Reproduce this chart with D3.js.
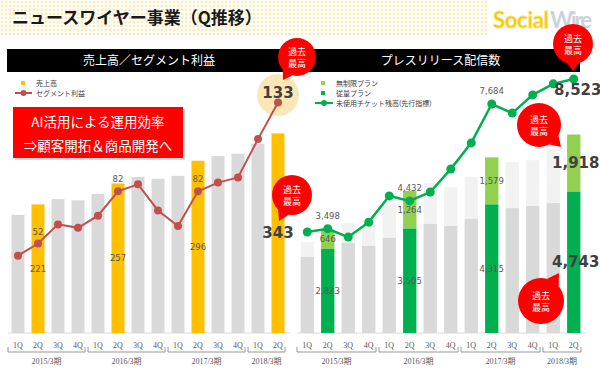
<!DOCTYPE html>
<html>
<head>
<meta charset="utf-8">
<script src="https://cdn.jsdelivr.net/npm/d3@7"></script>
<style>
  body { margin: 0; background: #fff; }
  svg { display: block; font-family: "Noto Sans CJK JP", "Noto Sans", sans-serif; }
</style>
</head>
<body>
<script>
// chart data
const quarters = ["1Q","2Q","3Q","4Q","1Q","2Q","3Q","4Q","1Q","2Q","3Q","4Q","1Q","2Q"];
const fiscalYears = ["2015/3期","2016/3期","2017/3期","2018/3期"];
const yearQuarterCount = [4, 4, 4, 2];
const highlightQ = [1, 5, 9, 13]; // 2Q columns shown in colour

const revenue = [203,221,230,228,239,257,268,265,270,296,304,308,325,343];
const segmentProfit = [45,52,63,61,68,82,86,71,62,82,87,90,112,133];

const meteredPlan = [2550,2823,3020,2920,3190,3505,3660,3590,3830,4315,4190,4260,4360,4743];
const unlimitedPlan = [500,646,670,740,1170,1264,1380,1310,1410,1579,1540,1540,1810,1918];
const unusedTickets = [3390,3498,3220,3720,4600,4432,4730,5500,6380,7684,7380,7990,8360,8523];

const W = 600, H = 371;
const baseY = 333;
const fmt = d3.format(",");

const svg = d3.select("body").append("svg")
  .attr("width", W)
  .attr("height", H);

// dotted header background
const defs = svg.append("defs");
const pat = defs.append("pattern")
  .attr("id", "dots")
  .attr("width", 4).attr("height", 4)
  .attr("patternUnits", "userSpaceOnUse");
pat.append("rect").attr("width", 4).attr("height", 4).attr("fill", "#fffdf3");
pat.append("circle").attr("cx", 2).attr("cy", 2).attr("r", 0.8).attr("fill", "#f7d66e");

svg.append("rect")
  .attr("x", 0).attr("y", 0)
  .attr("width", 488).attr("height", 36)
  .attr("fill", "url(#dots)");

svg.append("text") //page title
  .attr("x", 12).attr("y", 24)
  .attr("font-size", 17)
  .attr("font-weight", "bold")
  .attr("fill", "#1a1a1a")
  .text("ニュースワイヤー事業（Q推移）");

// logo
svg.append("text")
  .attr("x", 493).attr("y", 28)
  .attr("font-family", "Lato, 'Noto Sans', sans-serif")
  .attr("font-size", 22)
  .attr("font-weight", "bold")
  .attr("textLength", 56)
  .attr("fill", "#f6c800")
  .attr("stroke", "#fbe27a")
  .attr("stroke-width", 0.8)
  .text("Social");
svg.append("text")
  .attr("x", 550).attr("y", 28)
  .attr("font-family", "Lato, 'Noto Sans', sans-serif")
  .attr("font-size", 22)
  .attr("font-weight", "bold")
  .attr("textLength", 42)
  .attr("fill", "#c8d3dc")
  .text("Wire");

// black panel headers
const headers = [
  {x: 7, w: 284, label: "売上高／セグメント利益"},
  {x: 297, w: 283, label: "プレスリリース配信数"}
];
headers.forEach(function(h) {
  svg.append("rect")
    .attr("x", h.x).attr("y", 49)
    .attr("width", h.w).attr("height", 23)
    .attr("fill", "#000");
  svg.append("text")
    .attr("x", h.x + h.w / 2 + (h.x < 100 ? 0 : 2)).attr("y", 65)
    .attr("text-anchor", "middle")
    .attr("font-size", 12)
    .attr("fill", "#fff")
    .text(h.label);
});

// ---------- scales ----------
const xL = d3.scaleBand().domain(d3.range(quarters.length)).range([8, 288]).paddingInner(0.35).paddingOuter(0.175);
const xR = d3.scaleBand().domain(d3.range(quarters.length)).range([297, 584]).paddingInner(0.35).paddingOuter(0.175);
const yRev = d3.scaleLinear().domain([0, 400]).range([baseY, baseY - 400 * 0.582]);
const yProfit = d3.scaleLinear().domain([0, 140]).range([baseY + 1, baseY + 1 - 140 * 1.74]);
const yPR = d3.scaleLinear().domain([0, 9000]).range([baseY, baseY - 9000 * 0.0298]);

const isHi = function(i) { return highlightQ.indexOf(i) >= 0; };
const numFont = "'DejaVu Sans', Verdana, sans-serif";

// ---------- axes ----------
function drawAxis(x, left, right) {
  const g = svg.append("g")
    .attr("transform", "translate(0," + baseY + ")")
    .call(d3.axisBottom(x).tickSize(0).tickPadding(9).tickFormat(function(i) { return quarters[i]; }));
  g.select(".domain").remove();
  g.append("line")
    .attr("x1", left).attr("x2", right)
    .attr("y1", 0).attr("y2", 0)
    .attr("stroke", "#d9d9d9");
  g.selectAll("text")
    .attr("font-family", "'Liberation Serif', 'Noto Sans CJK JP', serif")
    .attr("font-size", 8)
    .attr("fill", "#595959");

  // year brackets
  const step = x.step();
  const r0 = x.range()[0];
  let start = 0;
  fiscalYears.forEach(function(yr, k) {
    const n = yearQuarterCount[k];
    const x1 = r0 + start * step, x2 = r0 + (start + n) * step - 3;
    svg.append("path")
      .attr("d", "M" + x1 + ",347V352H" + x2 + "V347")
      .attr("fill", "none")
      .attr("stroke", "#7f7f7f")
      .attr("stroke-width", 0.8);
    svg.append("text")
      .attr("x", (x1 + x2) / 2).attr("y", 364)
      .attr("text-anchor", "middle")
      .attr("font-family", "'Liberation Serif', 'Noto Sans CJK JP', serif")
      .attr("font-size", 8)
      .attr("fill", "#595959")
      .text(yr);
    start += n;
  });
}
drawAxis(xL, 8, 290);
drawAxis(xR, 297, 586);

// ---------- left chart ----------
svg.append("g").selectAll("rect")
  .data(revenue)
  .enter().append("rect")
  .attr("x", function(d, i) { return xL(i); })
  .attr("y", function(d) { return yRev(d); })
  .attr("width", xL.bandwidth())
  .attr("height", function(d) { return baseY - yRev(d); })
  .attr("fill", function(d, i) { return isHi(i) ? "#ffc000" : "#d9d9d9"; });

// glow behind latest profit label
svg.append("circle")
  .attr("cx", xL(13) + xL.bandwidth() / 2)
  .attr("cy", 95)
  .attr("r", 21)
  .attr("fill", "#fbe7b5");

const lineL = d3.line()
  .x(function(d, i) { return xL(i) + xL.bandwidth() / 2; })
  .y(function(d) { return yProfit(d); });

svg.append("path")
  .datum(segmentProfit)
  .attr("d", lineL)
  .attr("fill", "none")
  .attr("stroke", "#c0504d")
  .attr("stroke-width", 2);

svg.append("g").selectAll("circle")
  .data(segmentProfit)
  .enter().append("circle")
  .attr("cx", function(d, i) { return xL(i) + xL.bandwidth() / 2; })
  .attr("cy", function(d) { return yProfit(d); })
  .attr("r", 4)
  .attr("fill", "#c0504d");

highlightQ.forEach(function(i) {
  const cx = xL(i) + xL.bandwidth() / 2;
  const last = i === 13;
  // revenue label in middle of bar
  svg.append("text")
    .attr("x", cx)
    .attr("y", (yRev(revenue[i]) + baseY) / 2 + (last ? 5 : 3))
    .attr("text-anchor", "middle")
    .attr("font-family", numFont)
    .attr("font-size", last ? 15 : 8.5)
    .attr("font-weight", last ? "bold" : "normal")
    .attr("fill", last ? "#404040" : "#595959")
    .text(revenue[i]);
  // profit label above point
  svg.append("text")
    .attr("x", cx)
    .attr("y", last ? 98 : yProfit(segmentProfit[i]) - 9)
    .attr("text-anchor", "middle")
    .attr("font-family", numFont)
    .attr("font-size", last ? 15 : 8.5)
    .attr("font-weight", last ? "bold" : "normal")
    .attr("fill", last ? "#404040" : "#595959")
    .text(segmentProfit[i]);
});

// left legend
svg.append("rect").attr("x", 21).attr("y", 81).attr("width", 4).attr("height", 4).attr("fill", "#ffc000");
svg.append("line").attr("x1", 15).attr("x2", 32).attr("y1", 93).attr("y2", 93).attr("stroke", "#c0504d").attr("stroke-width", 2);
svg.append("circle").attr("cx", 23.5).attr("cy", 93).attr("r", 3).attr("fill", "#c0504d");
[["売上高", 85.5], ["セグメント利益", 95.5]].forEach(function(t) {
  svg.append("text").attr("x", 36).attr("y", t[1]).attr("font-size", 7).attr("fill", "#404040").text(t[0]);
});

// ---------- right chart ----------
const gR = svg.append("g");
meteredPlan.forEach(function(m, i) {
  const u = unlimitedPlan[i];
  gR.append("rect")
    .attr("x", xR(i)).attr("y", yPR(m + u))
    .attr("width", xR.bandwidth()).attr("height", yPR(m) - yPR(m + u))
    .attr("fill", isHi(i) ? "#92d050" : "#f2f2f2");
  gR.append("rect")
    .attr("x", xR(i)).attr("y", yPR(m))
    .attr("width", xR.bandwidth()).attr("height", baseY - yPR(m))
    .attr("fill", isHi(i) ? "#00b050" : "#d9d9d9");
});

const lineR = d3.line()
  .x(function(d, i) { return xR(i) + xR.bandwidth() / 2; })
  .y(function(d) { return yPR(d); });

svg.append("path")
  .datum(unusedTickets)
  .attr("d", lineR)
  .attr("fill", "none")
  .attr("stroke", "#00b050")
  .attr("stroke-width", 2.5);

svg.append("g").selectAll("circle")
  .data(unusedTickets)
  .enter().append("circle")
  .attr("cx", function(d, i) { return xR(i) + xR.bandwidth() / 2; })
  .attr("cy", function(d) { return yPR(d); })
  .attr("r", 4.5)
  .attr("fill", "#00b050");

highlightQ.forEach(function(i) {
  const cx = xR(i) + xR.bandwidth() / 2;
  const last = i === 13;
  const m = meteredPlan[i], u = unlimitedPlan[i];
  const lbl = function(x, y, v) {
    svg.append("text")
      .attr("x", x).attr("y", y)
      .attr("text-anchor", "middle")
      .attr("font-family", numFont)
      .attr("font-size", last ? 15 : 8.5)
      .attr("font-weight", last ? "bold" : "normal")
      .attr("fill", last ? "#404040" : "#595959")
      .text(fmt(v));
  };
  lbl(last ? cx + 2 : cx, (yPR(m) + baseY) / 2 + (last ? 5 : 3), m);
  lbl(last ? cx + 2 : cx, (yPR(m + u) + yPR(m)) / 2 + (last ? 5 : 3), u);
  if (last) lbl(cx + 4, 95, unusedTickets[i]);
  else lbl(cx, yPR(unusedTickets[i]) - 10, unusedTickets[i]);
});

// right legend
svg.append("rect").attr("x", 321).attr("y", 81).attr("width", 4).attr("height", 4).attr("fill", "#92d050");
svg.append("rect").attr("x", 321).attr("y", 91).attr("width", 4).attr("height", 4).attr("fill", "#00b050");
svg.append("line").attr("x1", 315).attr("x2", 333).attr("y1", 103).attr("y2", 103).attr("stroke", "#00b050").attr("stroke-width", 2);
svg.append("circle").attr("cx", 324).attr("cy", 103).attr("r", 3).attr("fill", "#00b050");
[["無制限プラン", 85.5], ["従量プラン", 95.5], ["未使用チケット残高(先行指標)", 105.5]].forEach(function(t) {
  svg.append("text").attr("x", 336).attr("y", t[1]).attr("font-size", 7).attr("fill", "#404040").text(t[0]);
});

// ---------- callout box ----------
svg.append("rect")
  .attr("x", 15).attr("y", 109)
  .attr("width", 170).attr("height", 51)
  .attr("fill", "#bfbfbf").attr("opacity", 0.6);
svg.append("rect")
  .attr("x", 13).attr("y", 107)
  .attr("width", 170).attr("height", 51)
  .attr("fill", "#ff0000");
[["AI活用による運用効率", 127], ["⇒顧客開拓＆商品開発へ", 151]].forEach(function(t) {
  svg.append("text")
    .attr("x", 98).attr("y", t[1])
    .attr("text-anchor", "middle")
    .attr("font-size", 13.5)
    .attr("fill", "#fff")
    .text(t[0]);
});

// ---------- "過去最高" bubbles ----------
function bubble(cx, cy, r, tx, ty) {
  const ang = Math.atan2(ty - cy, tx - cx);
  const a1 = ang - 0.3, a2 = ang + 0.3;
  const g = svg.append("g");
  g.append("path")
    .attr("d", "M" + (cx + r * Math.cos(a1)) + "," + (cy + r * Math.sin(a1)) +
      "L" + tx + "," + ty +
      "L" + (cx + r * Math.cos(a2)) + "," + (cy + r * Math.sin(a2)) + "Z")
    .attr("fill", "#ff0000");
  g.append("circle").attr("cx", cx).attr("cy", cy).attr("r", r).attr("fill", "#ff0000");
  [["過去", cy - 2], ["最高", cy + 10]].forEach(function(t) {
    g.append("text")
      .attr("x", cx).attr("y", t[1])
      .attr("text-anchor", "middle")
      .attr("font-size", 9)
      .attr("fill", "#fff")
      .text(t[0]);
  });
}
bubble(297, 57, 19, 283, 80);
bubble(573, 44, 20, 573, 71);
bubble(292, 195, 20, 279, 221);
bubble(539, 125, 22, 561, 147);
bubble(541, 301, 23, 559, 273);
</script>
</body>
</html>
